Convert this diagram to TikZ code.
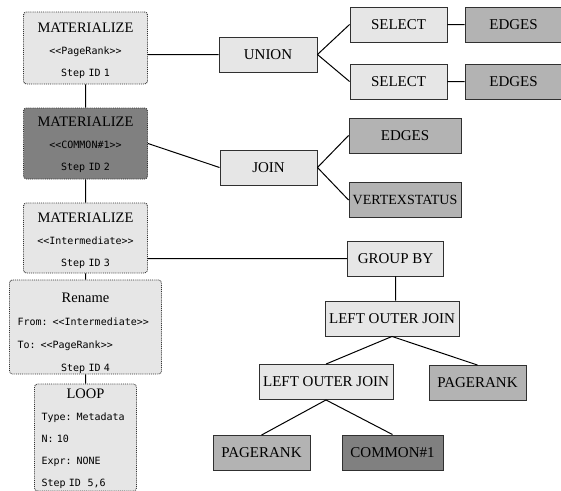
\documentclass[tikz,border=0pt]{standalone}
\usepackage{fontspec}
\setmainfont{Liberation Serif}
\setmonofont{DejaVu Sans Mono}
\usetikzlibrary{positioning}

\definecolor{lightbox}{HTML}{E6E6E6}
\definecolor{midbox}{HTML}{B3B3B3}
\definecolor{darkbox}{HTML}{808080}
\definecolor{boxline}{HTML}{303030}

\newcommand{\ttl}[2][15pt]{{\rule{0pt}{#1}\rmfamily\fontsize{14.5}{22}\selectfont #2}}
\newcommand{\lft}[1]{\makebox[\linewidth][l]{#1}}

\tikzset{
  op/.style={draw=boxline, line width=0.9pt, fill=lightbox, minimum height=35pt,
    inner sep=2pt, font=\fontsize{15}{16}\selectfont},
  tbl/.style={op, fill=midbox},
  tmp/.style={op, fill=darkbox},
  stepbox/.style={draw=boxline, densely dotted, line width=0.9pt, rounded corners=3pt,
    fill=lightbox, align=center, inner ysep=0pt,
    font=\ttfamily\fontsize{10}{22}\selectfont},
  link/.style={line width=1pt}
}

\begin{document}
\begin{tikzpicture}[x=1pt, y=-1pt]
\useasboundingbox (0,0) rectangle (561,490);

% plan steps
\node[stepbox, minimum width=124pt, minimum height=72pt, text width=116pt] (mat1) at (85.5,48)
  {\ttl{MATERIALIZE}\\ <<PageRank>>\\ Step ID 1};
\node[stepbox, fill=darkbox, minimum width=124pt, minimum height=71pt, text width=116pt] (mat2) at (85.5,143.5)
  {\ttl[12pt]{MATERIALIZE}\\ <<COMMON\#1>>\\ Step ID 2};
\node[stepbox, minimum width=124pt, minimum height=70pt, text width=116pt] (mat3) at (85.5,238)
  {\ttl{MATERIALIZE}\\ <<Intermediate>>\\ Step ID 3};
\node[stepbox, minimum width=152pt, minimum height=94pt, inner xsep=8pt, text width=136pt,
  font=\ttfamily\fontsize{10}{23}\selectfont] (ren) at (85.5,327)
  {\ttl[23pt]{Rename}\\ \lft{From: <<Intermediate>>}\\ \lft{To: <<PageRank>>}\\ Step ID 4};
\node[stepbox, minimum width=102pt, minimum height=107pt, inner xsep=7pt, text width=88pt] (loop) at (85.5,437.5)
  {\ttl[13pt]{LOOP}\\ \lft{Type: Metadata}\\ \lft{N: 10}\\ \lft{Expr: NONE}\\ \lft{Step ID~~5,6}};

% operators
\node[op, minimum width=98pt] (union) at (268,54.5) {UNION};
\node[op, minimum width=97pt] (sel1) at (398.5,24.5) {SELECT};
\node[tbl, minimum width=97pt] (edg1) at (513.5,24.5) {EDGES};
\node[op, minimum width=97pt] (sel2) at (398.5,81.5) {SELECT};
\node[tbl, minimum width=97pt] (edg2) at (513.5,81.5) {EDGES};

\node[op, minimum width=97pt] (join) at (268.5,167.5) {JOIN};
\node[tbl, minimum width=112pt] (edg3) at (405,135.5) {EDGES};
\node[tbl, minimum width=112pt, inner xsep=0pt, font=\fontsize{14}{16}\selectfont] (vst) at (405,200) {VERTEXSTATUS};

\node[op, minimum width=96pt] (grp) at (395.5,258.5) {GROUP BY};
\node[op, minimum width=134pt] (loj1) at (392,318.5) {LEFT OUTER JOIN};
\node[op, minimum width=134pt] (loj2) at (326,382) {LEFT OUTER JOIN};
\node[tbl, minimum width=97pt] (pr1) at (477.5,383) {PAGERANK};
\node[tbl, minimum width=97pt] (pr2) at (261.5,453) {PAGERANK};
\node[tmp, minimum width=101pt] (com) at (392.5,452.5) {COMMON\#1};

\draw[link]
  (mat1) -- (mat2)
  (mat2) -- (mat3)
  (mat3) -- (ren)
  (ren) -- (loop)
  (union.west) -- (union.west -| mat1.east)
  (mat2.east) -- (join.west)
  (grp.west) -- (grp.west -| mat3.east)
  (union.east) -- (sel1.west)
  (union.east) -- (sel2.west)
  (sel1) -- (edg1)
  (sel2) -- (edg2)
  (join.east) -- (edg3.west)
  (join.east) -- (vst.west)
  (grp.south) -- (grp.south |- loj1.north)
  (loj1.south) -- (loj2.north)
  (loj1.south) -- (pr1.north)
  (loj2.south) -- (pr2.north)
  (loj2.south) -- (com.north)
;
\end{tikzpicture}
\end{document}
